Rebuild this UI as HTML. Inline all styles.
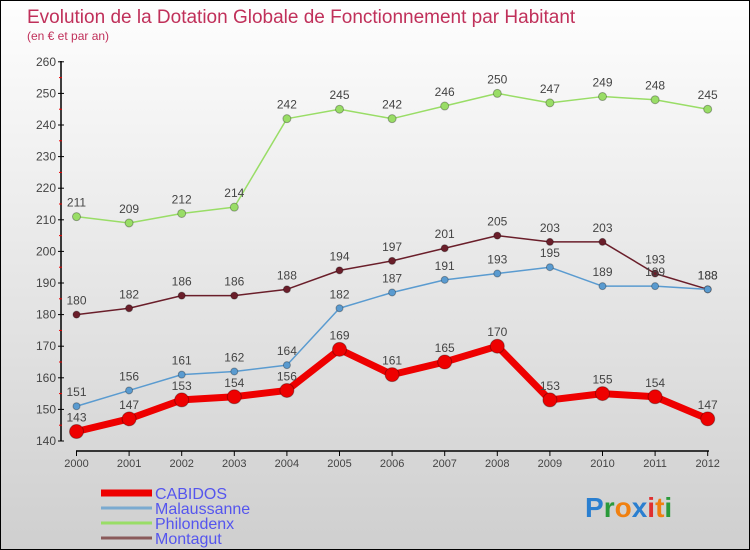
<!DOCTYPE html>
<html><head><meta charset="utf-8"><style>
body{margin:0}
#c{width:750px;height:550px;position:relative;box-sizing:border-box;border:1px solid #000;background:linear-gradient(#fefefe,#cfcfcf);font-family:"Liberation Sans",sans-serif;overflow:hidden}
</style></head><body>
<div id="c">
<svg width="750" height="550" id="s">
<text x="26" y="22" font-size="19" fill="#c0305a">Evolution de la Dotation Globale de Fonctionnement par Habitant</text>
<text x="26" y="39" font-size="12" fill="#c0305a">(en € et par an)</text>
<g id="g"></g>
<text x="584" y="516" font-size="28" font-weight="bold"><tspan fill="#2a7fd0">P</tspan><tspan fill="#2a9a3a">r</tspan><tspan fill="#f08010">o</tspan><tspan fill="#2a7fd0">x</tspan><tspan fill="#e03030">i</tspan><tspan fill="#f08010">t</tspan><tspan fill="#2a9a3a">i</tspan></text>
</svg></div>
<script>
const years=[2000,2001,2002,2003,2004,2005,2006,2007,2008,2009,2010,2011,2012];
const cabidos=[143,147,153,154,156,169,161,165,170,153,155,154,147];
const malaussanne=[151,156,161,162,164,182,187,191,193,195,189,189,188];
const philondenx=[211,209,212,214,242,245,242,246,250,247,249,248,245];
const montagut=[180,182,186,186,188,194,197,201,205,203,203,193,188];
const yTicks=[140,150,160,170,180,190,200,210,220,230,240,250,260];
const NS="http://www.w3.org/2000/svg";
const g=document.getElementById('g');
const X=i=>75.5+i*52.6;
const Y=v=>440-(v-140)*3.16;
function el(t,a,p){const e=document.createElementNS(NS,t);for(const k in a)e.setAttribute(k,a[k]);(p||g).appendChild(e);return e;}
let e=el('line',{x1:60,y1:60,x2:60,y2:440,stroke:'#000','stroke-width':1.5});

e=el('line',{x1:75,y1:450,x2:708,y2:450,stroke:'#000','stroke-width':1.5});

yTicks.forEach(v=>{
 el('line',{x1:57,y1:Y(v),x2:63,y2:Y(v),stroke:'#000'});
 if(v<260) el('line',{x1:58,y1:Y(v+5),x2:61,y2:Y(v+5),stroke:'#e00'});
 const t=el('text',{x:55,y:Y(v)+4,'font-size':12,fill:'#444','text-anchor':'end'});t.textContent=v;
 
});
years.forEach((y,i)=>{
 el('line',{x1:X(i),y1:450,x2:X(i),y2:455,stroke:'#000'});
 const t=el('text',{x:X(i),y:466,'font-size':11,fill:'#444','text-anchor':'middle'});t.textContent=y;
 
});
function series(name,data,col,w,r){
 const pl=el('polyline',{points:data.map((v,i)=>X(i)+','+Y(v)).join(' '),fill:'none',stroke:col,'stroke-width':w,'stroke-linejoin':'round'});
 
 data.forEach((v,i)=>{
  const c=el('circle',{cx:X(i),cy:Y(v),r:r,fill:col,stroke:'rgba(0,0,0,0.3)'});
  
  const t=el('text',{x:X(i),y:Y(v)-10,'font-size':12,fill:'#444','text-anchor':'middle'});t.textContent=v;
  
 });
}
series('philondenx',philondenx,'#99dd66',1.5,4);
series('montagut',montagut,'#6a1e2a',1.5,3.5);
series('malaussanne',malaussanne,'#5a9bd0',1.5,3.5);
series('cabidos',cabidos,'#ee0000',7,7);
const leg=[['CABIDOS','#ee0000',7],['Malaussanne','#7aaad0',3],['Philondenx','#99dd66',3],['Montagut','#8a5a5a',3]];
leg.forEach((l,i)=>{
 const y=492+i*15;
 const ln=el('line',{x1:100,y1:y,x2:151,y2:y,stroke:l[1],'stroke-width':l[2]});
 
 const t=el('text',{x:154,y:y+6,'font-size':16,fill:'#5555ee'});t.textContent=l[0];
 
});
</script>
</body></html>
